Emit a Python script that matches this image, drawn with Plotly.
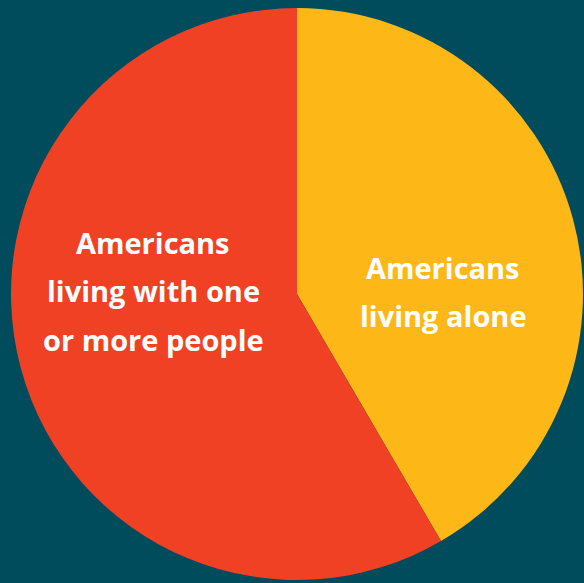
import plotly.graph_objects as go

labels = ["Americans living alone", "Americans living with one or more people"]
values = [41.6, 58.4]
colors = ["#FDB818", "#F04124"]
bg = "#004B5C"

label_lines = [
    (["Americans", "living alone"], 443, [267, 315]),
    (["Americans", "living with one", "or more people"], 153, [242, 291, 339]),
]

W, H = 584, 583

fig = go.Figure(go.Pie(
    labels=labels, values=values, sort=False, direction="clockwise", rotation=0,
    marker=dict(colors=colors, line=dict(width=0)),
    textinfo="none", hoverinfo="label+percent", showlegend=False,
    domain=dict(x=[11 / W, 583 / W], y=[1 - 580 / H, 1 - 8 / H]),
))

for lines, cx, ys in label_lines:
    for t, y in zip(lines, ys):
        fig.add_annotation(
            text=t, x=cx / W, y=1 - y / H, xref="paper", yref="paper",
            xanchor="center", yanchor="middle", showarrow=False,
            font=dict(family="Open Sans", size=29, color="white", weight="bold"),
        )

fig.update_layout(
    width=W, height=H, margin=dict(l=0, r=0, t=0, b=0),
    paper_bgcolor=bg, plot_bgcolor=bg,
)
fig.write_html("out.html")
